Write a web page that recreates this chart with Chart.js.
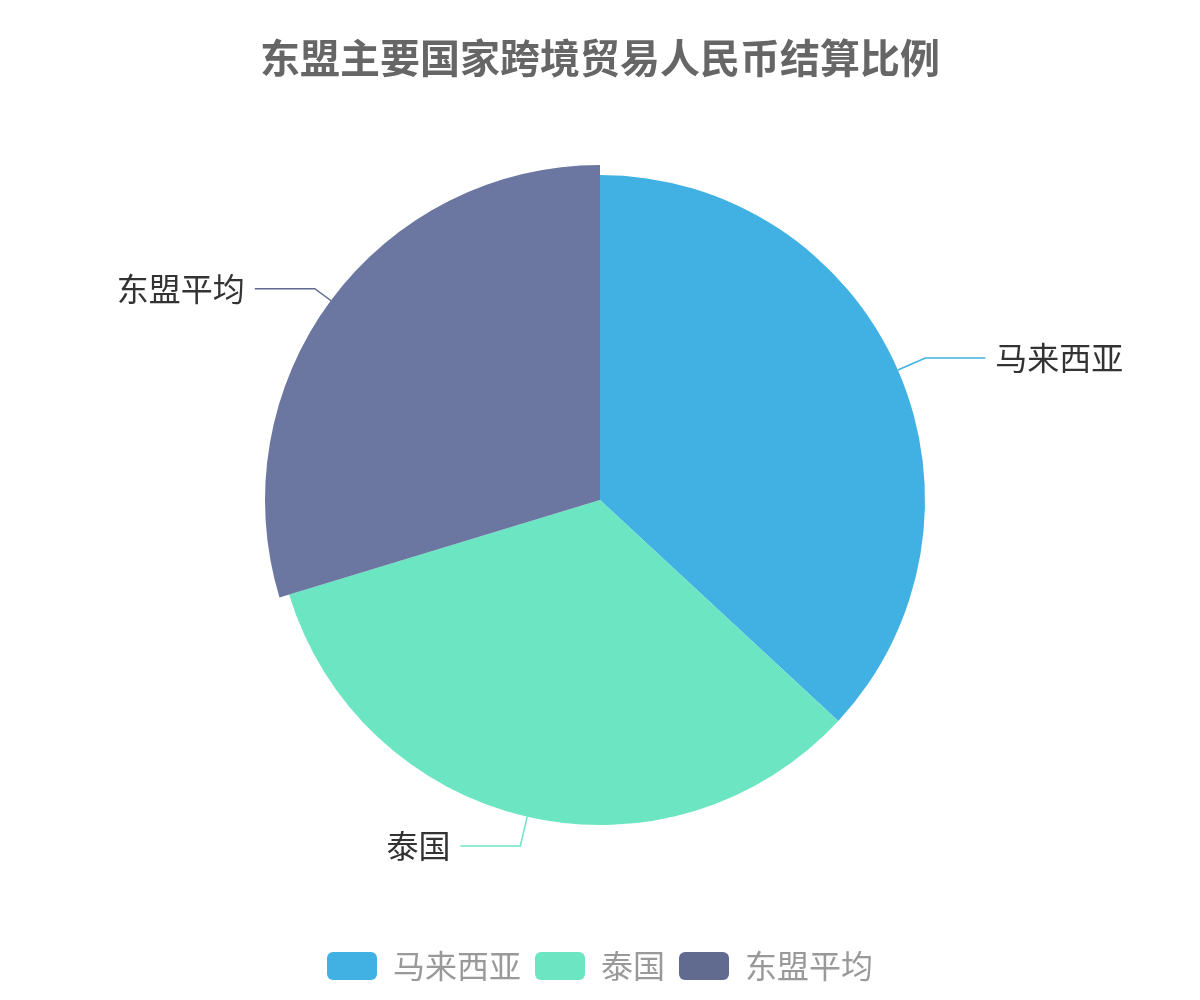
<!DOCTYPE html>
<html>
<head>
<meta charset="utf-8">
<script src="https://cdn.jsdelivr.net/npm/chart.js@4/dist/chart.umd.min.js"></script>
<style>
  html, body { margin: 0; padding: 0; background: #fff; }
  #wrap { width: 1200px; height: 1000px; }
</style>
</head>
<body>
<div id="wrap"><canvas id="chart"></canvas></div>
<script>
// Daten
const labels = ['马来西亚', '泰国', '东盟平均'];
const shares = [36.9, 33.4, 29.7];
const baseColors = ['#41b0e2', '#6ce5c3', '#616b8f'];
// hervorgehobener Sektor (wie im Original etwas heller und größer)
const sliceColors = ['#41b0e2', '#6ce5c3', '#6b77a0'];
const highlightIndex = 2;

const FONT = '"Noto Sans CJK SC", "Noto Sans", sans-serif';
const PIE_RADIUS = 325;

// Beschriftungen mit Führungslinien außerhalb des Kreises
const outerLabels = {
    id: 'outerLabels',
    beforeDatasetsDraw(chart) {
        const meta = chart.getDatasetMeta(0);
        const ctx = chart.ctx;
        // hervorgehobenen Sektor vergrößern
        meta.data[highlightIndex].outerRadius = PIE_RADIUS + 10;

        ctx.save();
        ctx.font = '32px ' + FONT;
        ctx.textBaseline = 'middle';
        meta.data.forEach((arc, i) => {
            const a = (arc.startAngle + arc.endAngle) / 2;
            const cx = arc.x, cy = arc.y;
            const x1 = cx + Math.cos(a) * PIE_RADIUS;
            const y1 = cy + Math.sin(a) * PIE_RADIUS;
            const x2 = x1 + Math.cos(a) * 30;
            const y2 = y1 + Math.sin(a) * 30;
            const dir = Math.cos(a) >= 0 ? 1 : -1;
            const x3 = x2 + dir * 60;

            ctx.strokeStyle = baseColors[i];
            ctx.lineWidth = 1.5;
            ctx.beginPath();
            ctx.moveTo(x1, y1);
            ctx.lineTo(x2, y2);
            ctx.lineTo(x3, y2);
            ctx.stroke();

            ctx.fillStyle = '#333';
            ctx.textAlign = dir > 0 ? 'left' : 'right';
            ctx.fillText(labels[i], x3 + dir * 10, y2);
        });
        ctx.restore();
    }
};

new Chart(document.getElementById('chart'), {
    type: 'pie',
    data: {
        labels: labels,
        datasets: [{
            data: shares,
            backgroundColor: sliceColors,
            borderWidth: 0,
            hoverOffset: 0
        }]
    },
    options: {
        responsive: true,
        maintainAspectRatio: false,
        animation: false,
        radius: PIE_RADIUS,
        layout: { padding: { bottom: 8 } },
        plugins: {
            tooltip: { enabled: false },
            title: {
                display: true,
                text: '东盟主要国家跨境贸易人民币结算比例',
                color: '#666',
                font: { family: FONT, size: 40, weight: 'bold', lineHeight: 0.3 },
                padding: { top: 52, bottom: 0 }
            },
            legend: {
                position: 'bottom',
                labels: {
                    boxWidth: 50,
                    boxHeight: 28,
                    useBorderRadius: true,
                    borderRadius: 6,
                    padding: 14,
                    color: '#999',
                    font: { family: FONT, size: 32 },
                    generateLabels(chart) {
                        return labels.map((t, i) => ({
                            text: t,
                            fillStyle: baseColors[i],
                            strokeStyle: baseColors[i],
                            fontColor: '#999',
                            lineWidth: 0,
                            borderRadius: 6,
                            hidden: false,
                            index: i
                        }));
                    }
                }
            }
        }
    },
    plugins: [outerLabels]
});
</script>
</body>
</html>
